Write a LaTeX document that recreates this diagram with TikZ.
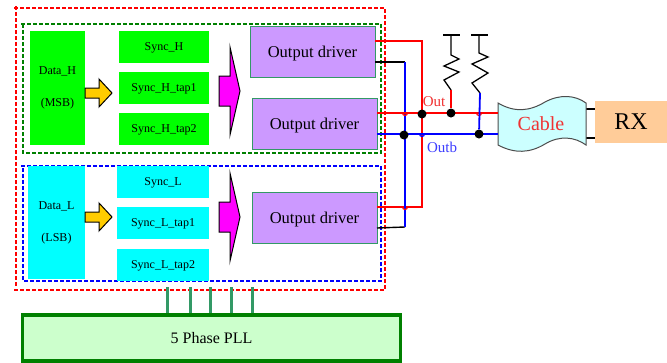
\documentclass[tikz,border=0pt]{standalone}
\usepackage{fontspec}
\setmainfont{Liberation Serif}
\usepackage{xcolor}
\usetikzlibrary{positioning,decorations.markings}
\definecolor{dkgreen}{RGB}{0,128,0}
\definecolor{seagreen}{RGB}{51,153,102}
\definecolor{purplebox}{RGB}{204,153,255}
\definecolor{palegreen}{RGB}{204,255,204}
\definecolor{palecyan}{RGB}{204,255,255}
\definecolor{peach}{RGB}{255,204,153}
\definecolor{txtblue}{RGB}{60,60,255}
\definecolor{txtred}{RGB}{240,50,50}
\definecolor{datacyan}{RGB}{0,255,255}
\definecolor{mergepink}{RGB}{255,0,255}
\definecolor{arrowgold}{RGB}{255,204,0}
\tikzset{
  groupbox/.style={decorate, decoration={markings, mark=between positions 0 and 1 step 6pt with {\fill[#1] (-2pt,-1.1pt) rectangle (2pt,1.1pt);}}},
  databox/.style={minimum width=55pt, minimum height=114pt, inner sep=0pt, outer sep=0pt, align=center, font=\fontsize{12}{12}\selectfont},
  syncbox/.style={minimum width=90pt, minimum height=32pt, inner sep=0pt, outer sep=0pt, text height=10pt, text depth=3pt, font=\fontsize{12}{12}\selectfont},
  driver/.style={draw=seagreen, fill=purplebox, line width=1pt, minimum width=125pt, minimum height=51pt, inner sep=0pt, outer sep=0pt, text height=15pt, text depth=4pt, font=\fontsize{16.5}{16}\selectfont},
  wire/.style={line width=1.4pt},
  hop/.style={line width=1.2pt},
  dot/.style={circle, fill=black, minimum size=9pt, inner sep=0pt},
  fatarrow/.style={draw=black, line width=1pt, miter limit=20},
  clockline/.style={draw=seagreen, line width=3pt}
}
\begin{document}
\begin{tikzpicture}[x=1pt, y=-1pt]
\useasboundingbox (0,0) rectangle (667,362);
% groups
\path[groupbox=red] (16,8) -- (385,8) -- (385,290) -- (16,290) -- cycle;
\path[groupbox=dkgreen] (23,24) -- (381,24) -- (381,153) -- (23,153) -- cycle;
\path[groupbox=blue] (23,166) -- (381,166) -- (381,281) -- (23,281) -- cycle;
% high half
\node[databox, fill=green] (dataH) at (57.5,88) {Data\_H\\[20pt](MSB)};
\node[syncbox, fill=green] (syncH) at (164,47) {Sync\_H};
\node[syncbox, fill=green, below=9pt of syncH] (syncHa) {Sync\_H\_tap1};
\node[syncbox, fill=green, below=9pt of syncHa] (syncHb) {Sync\_H\_tap2};
% low half
\node[databox, fill=datacyan, minimum width=57pt, minimum height=113pt] (dataL) at (56.5,222.5) {Data\_L\\[20pt](LSB)};
\node[syncbox, fill=datacyan, minimum width=92pt] (syncL) at (163,181.5) {Sync\_L};
\node[syncbox, fill=datacyan, minimum width=92pt, below=9pt of syncL] (syncLa) {Sync\_L\_tap1};
\node[syncbox, fill=datacyan, minimum width=92pt, below=10pt of syncLa] (syncLb) {Sync\_L\_tap2};
% arrows
\foreach \ay in {93,217} {
  \draw[fatarrow, fill=arrowgold] (85,\ay-5) -- (99,\ay-5) -- (99,\ay-14) -- (112,\ay) -- (99,\ay+14) -- (99,\ay+5) -- (85,\ay+5) -- cycle;
}
\foreach \ay in {91,217} {
  \draw[fatarrow, fill=mergepink] (219,\ay-15) -- (230,\ay-15) -- (230,\ay-44) -- (240,\ay) -- (230,\ay+44) -- (230,\ay+15) -- (219,\ay+15) -- cycle;
}
% drivers
\node[driver] (drvA) at (312.5,51.5) {Output driver};
\node[driver] (drvB) at (314.5,124) {Output driver};
\node[driver] (drvC) at (314.5,217.5) {Output driver};
% cable and rx
\node[fill=peach, minimum width=72pt, minimum height=42pt, inner sep=0pt, font=\fontsize{24}{24}\selectfont] (rx) at (631,122) {RX};
\coordinate (cabIn) at (498,113);
\coordinate (cabInb) at (498,134);
\coordinate (cabOut) at (586,109);
\coordinate (cabOutb) at (586,138);
\draw[wire, black, line width=1.6pt] (cabOut) -- (cabOut -| rx.west);
\draw[wire, black, line width=1.6pt] (cabOutb) -- (cabOutb -| rx.west);
\draw[black!70, fill=palecyan, line width=1pt] (498,103) .. controls (515,113) and (530,111) .. (545,102) .. controls (560,94) and (575,95) .. (586,103) -- (586,145) .. controls (575,137) and (560,135) .. (545,144) .. controls (530,153) and (515,154) .. (498,145) -- cycle;
\node[text=txtred, font=\fontsize{20}{20}\selectfont] (cable) at (541,124) {Cable};
% pll
\node[draw=dkgreen, fill=palegreen, line width=3.2pt, minimum width=378pt, minimum height=46pt, inner sep=0pt, font=\fontsize{16}{16}\selectfont] (pll) at (211.5,338) {5 Phase PLL};
\foreach \cx in {167,190,210,231,252} {
  \coordinate (clk\cx) at (\cx,287);
  \draw[clockline] (clk\cx) -- (clk\cx |- pll.north);
}
% wires
\coordinate (redA) at (422,41);
\coordinate (redC) at (422,207);
\coordinate (bluA) at (405,62);
\coordinate (bluC) at (405,227);
\coordinate (pullA) at (451,35);
\coordinate (pullB) at (479,35);
\draw[wire, red] ([yshift=10.5pt]drvA.east) -- (redA) -- (redC) -- ([yshift=10.5pt]drvC.east);
\draw[wire, black] ([yshift=-10.5pt]drvA.east) -- (bluA);
\draw[wire, black] ([yshift=-10.5pt]drvC.east) -- (bluC);
\draw[wire, blue] (bluA) -- (bluC);
\draw[wire, red] ([yshift=11pt]drvB.east) -- (cabIn);
\draw[wire, blue] ([yshift=-10pt]drvB.east) -- (cabInb);
% hops at the crossings
\draw[hop, red] (402.5,113) arc (180:0:2.5);
\draw[hop, red] (402.5,207) arc (180:0:2.5);
\draw[hop, blue] (419.5,134) arc (180:0:2.5);
\draw[hop, red] (476.5,113) arc (180:0:2.5);
% pull ups
\draw[black, line width=1.3pt] (443,35) -- (460,35);
\draw[black, line width=1.3pt] (471,35) -- (488,35);
\draw[black, line width=1.3pt] (pullA) -- (451,55) -- (459,59) -- (444,66) -- (459,72) -- (444,80) -- (451,90);
\draw[black, line width=1.3pt] (pullB) -- (479,53) -- (488,57) -- (472,64) -- (488,73) -- (472,83) -- (480,93);
\node[dot] (dotA) at (422,114) {};
\node[dot] (dotB) at (404,135) {};
\node[dot] (dotC) at (451,113) {};
\node[dot] (dotD) at (479,134) {};
\draw[red, line width=1.8pt] (451,90) -- (dotC);
\draw[blue, line width=1.8pt] (480,93) -- (dotD);
\node[text=txtred, font=\fontsize{15}{15}\selectfont] (outlab) at (434,102) {Out};
\node[text=txtblue, font=\fontsize{15}{15}\selectfont] (outblab) at (442,147) {Outb};
\end{tikzpicture}
\end{document}
